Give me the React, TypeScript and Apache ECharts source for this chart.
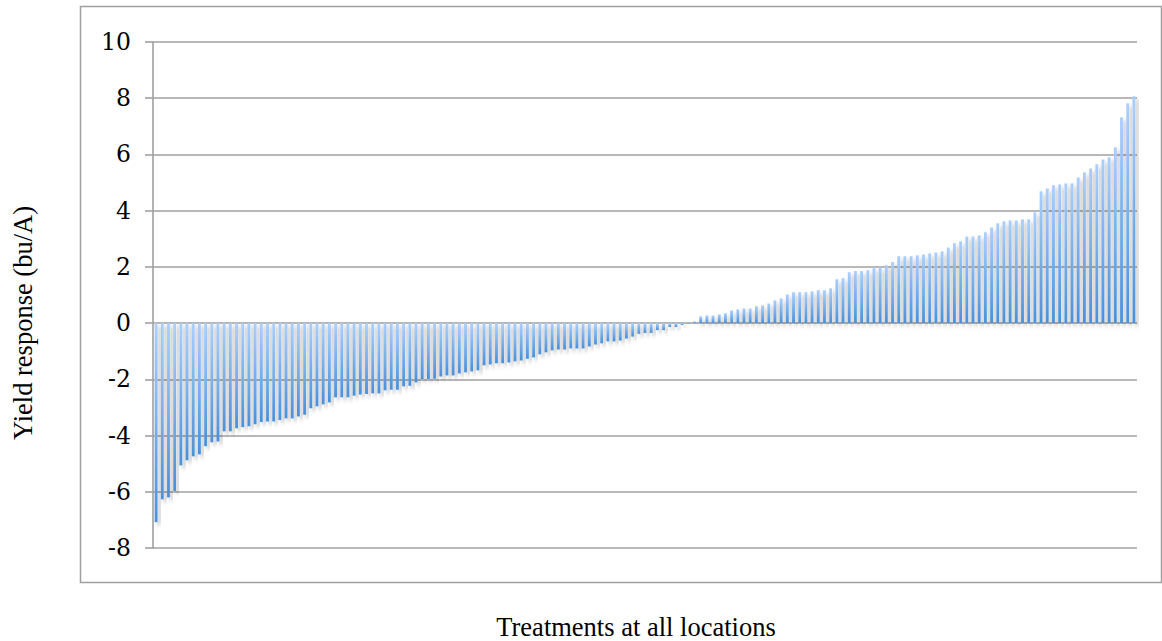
import React, { useEffect, useRef } from "react";
import * as echarts from "echarts";

// Sorted yield responses (bu/A), negative part then positive part
const negativeResponses = [
  -7.08, -6.27, -6.2, -5.97, -5.06, -4.88, -4.74, -4.67, -4.38, -4.24,
  -4.21, -3.85, -3.85, -3.74, -3.7, -3.67, -3.6, -3.52, -3.5, -3.5,
  -3.45, -3.39, -3.39, -3.32, -3.26, -3.03, -2.96, -2.89, -2.82, -2.64,
  -2.64, -2.64, -2.58, -2.54, -2.52, -2.5, -2.5, -2.39, -2.37, -2.37,
  -2.25, -2.23, -2.11, -1.99, -1.99, -1.98, -1.9, -1.86, -1.86, -1.79,
  -1.75, -1.72, -1.68, -1.5, -1.47, -1.43, -1.43, -1.4, -1.36, -1.33,
  -1.27, -1.22, -1.11, -1.04, -0.97, -0.94, -0.94, -0.9, -0.9, -0.9,
  -0.83, -0.76, -0.72, -0.65, -0.65, -0.62, -0.55, -0.48, -0.38, -0.35,
  -0.35, -0.25, -0.25, -0.14, -0.14, -0.07, -0.02,
];

const positiveResponses = [
  0.06, 0.24, 0.27, 0.27, 0.31, 0.35, 0.45, 0.49, 0.52, 0.52,
  0.6, 0.63, 0.7, 0.81, 0.88, 1.02, 1.1, 1.1, 1.1, 1.13,
  1.17, 1.17, 1.24, 1.56, 1.6, 1.81, 1.85, 1.85, 1.88, 1.98,
  1.98, 2.06, 2.17, 2.38, 2.38, 2.38, 2.41, 2.44, 2.48, 2.51,
  2.55, 2.69, 2.84, 2.91, 3.08, 3.08, 3.12, 3.23, 3.4, 3.55,
  3.62, 3.65, 3.65, 3.69, 3.69, 3.94, 4.69, 4.79, 4.9, 4.93,
  4.97, 4.97, 5.18, 5.36, 5.5, 5.65, 5.82, 5.9, 6.25, 7.32,
  7.82, 8.07,
];

const yieldResponses = [...negativeResponses, ...positiveResponses];
const treatments = yieldResponses.map((_, i) => `Treatment ${i + 1}`);

const yMin = -8;
const yMax = 10;
const yStep = 2;

const yTitle = "Yield response (bu/A)";
const xTitle = "Treatments at all locations";

export default function App() {
  const ref = useRef<HTMLDivElement>(null);

  useEffect(() => {
    if (!ref.current) return;
    const chart = echarts.init(ref.current, null, { renderer: "svg" });
    const gray = "#a0a0a0";
    chart.setOption({
      animation: false,
      backgroundColor: "#ffffff",
      grid: { left: 153, top: 42, right: 25, bottom: 93, containLabel: false },
      xAxis: {
        type: "category",
        data: treatments,
        axisLine: { show: false },
        axisTick: { show: false },
        axisLabel: { show: false },
        splitLine: { show: false },
      },
      yAxis: {
        type: "value",
        min: yMin,
        max: yMax,
        interval: yStep,
        axisLine: { show: true, lineStyle: { color: gray, width: 1.6 } },
        axisTick: { show: true, length: 8, lineStyle: { color: gray, width: 1.6 } },
        axisLabel: {
          margin: 22,
          fontFamily: "DejaVu Serif",
          fontSize: 23.5,
          color: "#000000",
        },
        splitLine: { show: true, lineStyle: { color: gray, width: 1.6 } },
      },
      series: [
        {
          type: "bar",
          data: yieldResponses,
          barCategoryGap: "54%",
          itemStyle: {
            color: new echarts.graphic.LinearGradient(0, 0, 0, 1, [
              { offset: 0, color: "#abcffb" },
              { offset: 1, color: "#4a90da" },
            ]),
            shadowColor: "rgba(0,0,0,0.28)",
            shadowBlur: 4,
            shadowOffsetX: 3,
            shadowOffsetY: 3,
          },
        },
      ],
      graphic: [
        {
          type: "rect",
          silent: true,
          z: -1,
          shape: { x: 80.5, y: 6.5, width: 1081, height: 576 },
          style: { fill: "none", stroke: gray, lineWidth: 1.5 },
        },
        {
          type: "text",
          silent: true,
          x: 23,
          y: 323,
          rotation: Math.PI / 2,
          style: {
            text: yTitle,
            fontFamily: "Liberation Serif",
            fontSize: 26.5,
            fill: "#000000",
            align: "center",
            verticalAlign: "middle",
            textAlign: "center",
            textVerticalAlign: "middle",
          },
        },
        {
          type: "text",
          silent: true,
          x: 636,
          y: 627,
          style: {
            text: xTitle,
            fontFamily: "Liberation Serif",
            fontSize: 26.5,
            fill: "#000000",
            align: "center",
            verticalAlign: "middle",
            textAlign: "center",
            textVerticalAlign: "middle",
          },
        },
      ],
    });
    return () => chart.dispose();
  }, []);

  return (
    <div
      ref={ref}
      style={{ position: "fixed", left: 0, top: 0, width: 1162, height: 641 }}
    />
  );
}
